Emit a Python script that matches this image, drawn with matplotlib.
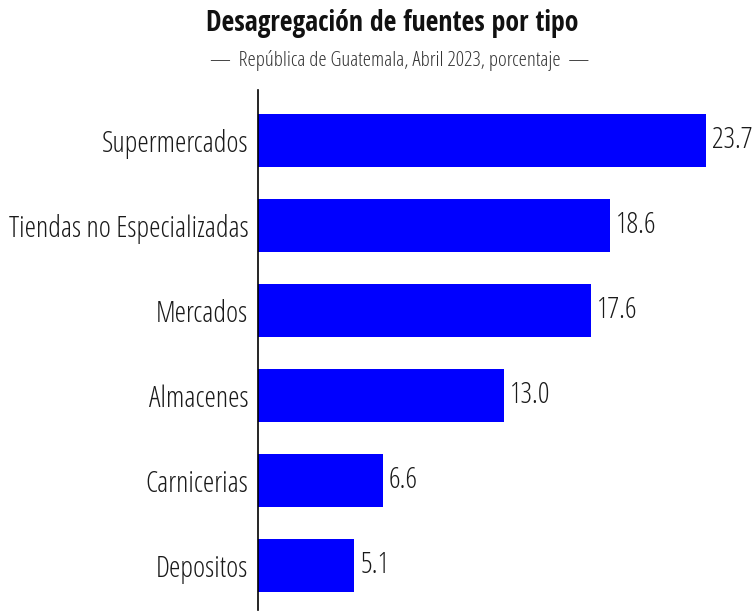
import matplotlib
matplotlib.use("Agg")
import matplotlib.pyplot as plt
from matplotlib import font_manager
from matplotlib.font_manager import FontProperties

categories = ["Supermercados", "Tiendas no Especializadas", "Mercados",
              "Almacenes", "Carnicerias", "Depositos"]
values = [23.7, 18.6, 17.6, 13.0, 6.6, 5.1]


def find_font(filename, fallback_weight):
    for f in font_manager.fontManager.ttflist:
        if f.fname.endswith(filename):
            return lambda size: FontProperties(fname=f.fname, size=size)
    return lambda size: FontProperties(family="DejaVu Sans", weight=fallback_weight, size=size)


light = find_font("OpenSans-CondLight.ttf", "light")
bold = find_font("OpenSans-CondBold.ttf", "bold")

fig = plt.figure(figsize=(7.56, 6.16), dpi=100)
ax = fig.add_axes([258 / 756, 6 / 616, 498 / 756, 520 / 616])

ypos = list(range(len(categories)))
ax.barh(ypos, values, height=0.62, color="#0000ff")
for y, v in zip(ypos, values):
    ax.text(v + 0.33, y, f"{v:.1f}", va="center", ha="left", color="#1a1a1a",
            fontproperties=light(20.8))

ax.set_yticks(ypos)
ax.set_yticklabels(categories, color="#1a1a1a")
for lbl in ax.get_yticklabels():
    lbl.set_fontproperties(light(20.8))
ax.set_ylim(5.52, -0.59)
ax.set_xlim(0, 26.35)
ax.set_xticks([])
ax.tick_params(axis="y", length=0, pad=7)
for s in ["top", "right", "bottom"]:
    ax.spines[s].set_visible(False)
ax.spines["left"].set_linewidth(1.2)

fig.text(0.519, 0.962, "Desagregación de fuentes por tipo", ha="center", va="center",
         color="#111111", fontproperties=bold(20))
fig.text(0.529, 0.902, "—  República de Guatemala, Abril 2023, porcentaje  —", ha="center",
         va="center", color="#333333", fontproperties=light(15))

fig.savefig("out.png", dpi=100)
